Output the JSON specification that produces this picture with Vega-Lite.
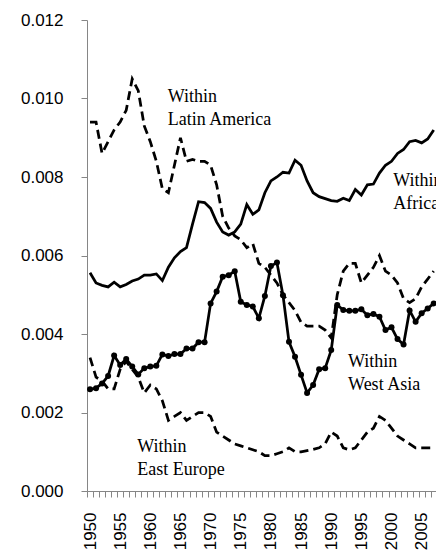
{
  "$schema": "https://vega.github.io/schema/vega-lite/v6.json",
  "width": 349,
  "height": 471,
  "autosize": {"type": "none"},
  "padding": {"left": 87, "top": 20, "right": 0, "bottom": 60},
  "background": "white",
  "config": {"view": {"stroke": null}, "font": "Liberation Sans"},
  "datasets": {
    "series": [
      {"year":1950,"region":"Latin America","value":0.0094},{"year":1951,"region":"Latin America","value":0.0094},{"year":1952,"region":"Latin America","value":0.0086},{"year":1953,"region":"Latin America","value":0.0089},{"year":1954,"region":"Latin America","value":0.0092},{"year":1955,"region":"Latin America","value":0.0094},{"year":1956,"region":"Latin America","value":0.0097},{"year":1957,"region":"Latin America","value":0.0105},{"year":1958,"region":"Latin America","value":0.0102},{"year":1959,"region":"Latin America","value":0.0093},{"year":1960,"region":"Latin America","value":0.0089},{"year":1961,"region":"Latin America","value":0.0084},{"year":1962,"region":"Latin America","value":0.0077},{"year":1963,"region":"Latin America","value":0.0076},{"year":1964,"region":"Latin America","value":0.0083},{"year":1965,"region":"Latin America","value":0.0090},{"year":1966,"region":"Latin America","value":0.0084},{"year":1967,"region":"Latin America","value":0.00845},{"year":1968,"region":"Latin America","value":0.0084},{"year":1969,"region":"Latin America","value":0.0084},{"year":1970,"region":"Latin America","value":0.0083},{"year":1971,"region":"Latin America","value":0.0078},{"year":1972,"region":"Latin America","value":0.0070},{"year":1973,"region":"Latin America","value":0.0067},{"year":1974,"region":"Latin America","value":0.0065},{"year":1975,"region":"Latin America","value":0.0064},{"year":1976,"region":"Latin America","value":0.0062},{"year":1977,"region":"Latin America","value":0.0063},{"year":1978,"region":"Latin America","value":0.0058},{"year":1979,"region":"Latin America","value":0.0057},{"year":1980,"region":"Latin America","value":0.0055},{"year":1981,"region":"Latin America","value":0.0053},{"year":1982,"region":"Latin America","value":0.0050},{"year":1983,"region":"Latin America","value":0.0048},{"year":1984,"region":"Latin America","value":0.0046},{"year":1985,"region":"Latin America","value":0.0043},{"year":1986,"region":"Latin America","value":0.0042},{"year":1987,"region":"Latin America","value":0.0042},{"year":1988,"region":"Latin America","value":0.0042},{"year":1989,"region":"Latin America","value":0.0041},{"year":1990,"region":"Latin America","value":0.0039},{"year":1991,"region":"Latin America","value":0.0050},{"year":1992,"region":"Latin America","value":0.0056},{"year":1993,"region":"Latin America","value":0.0058},{"year":1994,"region":"Latin America","value":0.0058},{"year":1995,"region":"Latin America","value":0.0053},{"year":1996,"region":"Latin America","value":0.0055},{"year":1997,"region":"Latin America","value":0.0057},{"year":1998,"region":"Latin America","value":0.0060},{"year":1999,"region":"Latin America","value":0.0056},{"year":2000,"region":"Latin America","value":0.0055},{"year":2001,"region":"Latin America","value":0.0053},{"year":2002,"region":"Latin America","value":0.0049},{"year":2003,"region":"Latin America","value":0.0048},{"year":2004,"region":"Latin America","value":0.0049},{"year":2005,"region":"Latin America","value":0.0052},{"year":2006,"region":"Latin America","value":0.0054},{"year":2007,"region":"Latin America","value":0.0056},
      {"year":1950,"region":"Africa","value":0.00556},{"year":1951,"region":"Africa","value":0.0053},{"year":1952,"region":"Africa","value":0.00524},{"year":1953,"region":"Africa","value":0.0052},{"year":1954,"region":"Africa","value":0.00532},{"year":1955,"region":"Africa","value":0.0052},{"year":1956,"region":"Africa","value":0.00526},{"year":1957,"region":"Africa","value":0.00535},{"year":1958,"region":"Africa","value":0.0054},{"year":1959,"region":"Africa","value":0.0055},{"year":1960,"region":"Africa","value":0.0055},{"year":1961,"region":"Africa","value":0.00553},{"year":1962,"region":"Africa","value":0.00536},{"year":1963,"region":"Africa","value":0.0057},{"year":1964,"region":"Africa","value":0.00594},{"year":1965,"region":"Africa","value":0.0061},{"year":1966,"region":"Africa","value":0.0062},{"year":1967,"region":"Africa","value":0.0068},{"year":1968,"region":"Africa","value":0.00737},{"year":1969,"region":"Africa","value":0.00735},{"year":1970,"region":"Africa","value":0.0072},{"year":1971,"region":"Africa","value":0.00685},{"year":1972,"region":"Africa","value":0.0066},{"year":1973,"region":"Africa","value":0.00652},{"year":1974,"region":"Africa","value":0.0066},{"year":1975,"region":"Africa","value":0.0068},{"year":1976,"region":"Africa","value":0.0073},{"year":1977,"region":"Africa","value":0.00705},{"year":1978,"region":"Africa","value":0.00716},{"year":1979,"region":"Africa","value":0.0076},{"year":1980,"region":"Africa","value":0.0079},{"year":1981,"region":"Africa","value":0.008},{"year":1982,"region":"Africa","value":0.00812},{"year":1983,"region":"Africa","value":0.0081},{"year":1984,"region":"Africa","value":0.00843},{"year":1985,"region":"Africa","value":0.0083},{"year":1986,"region":"Africa","value":0.0079},{"year":1987,"region":"Africa","value":0.0076},{"year":1988,"region":"Africa","value":0.0075},{"year":1989,"region":"Africa","value":0.00745},{"year":1990,"region":"Africa","value":0.0074},{"year":1991,"region":"Africa","value":0.00738},{"year":1992,"region":"Africa","value":0.00746},{"year":1993,"region":"Africa","value":0.0074},{"year":1994,"region":"Africa","value":0.00768},{"year":1995,"region":"Africa","value":0.00754},{"year":1996,"region":"Africa","value":0.0078},{"year":1997,"region":"Africa","value":0.00782},{"year":1998,"region":"Africa","value":0.0081},{"year":1999,"region":"Africa","value":0.0083},{"year":2000,"region":"Africa","value":0.0084},{"year":2001,"region":"Africa","value":0.0086},{"year":2002,"region":"Africa","value":0.0087},{"year":2003,"region":"Africa","value":0.0089},{"year":2004,"region":"Africa","value":0.00893},{"year":2005,"region":"Africa","value":0.00887},{"year":2006,"region":"Africa","value":0.00897},{"year":2007,"region":"Africa","value":0.0092},
      {"year":1950,"region":"West Asia","value":0.00259},{"year":1951,"region":"West Asia","value":0.00262},{"year":1952,"region":"West Asia","value":0.00274},{"year":1953,"region":"West Asia","value":0.00293},{"year":1954,"region":"West Asia","value":0.00345},{"year":1955,"region":"West Asia","value":0.00321},{"year":1956,"region":"West Asia","value":0.00336},{"year":1957,"region":"West Asia","value":0.00317},{"year":1958,"region":"West Asia","value":0.00297},{"year":1959,"region":"West Asia","value":0.00313},{"year":1960,"region":"West Asia","value":0.00317},{"year":1961,"region":"West Asia","value":0.00319},{"year":1962,"region":"West Asia","value":0.00348},{"year":1963,"region":"West Asia","value":0.00344},{"year":1964,"region":"West Asia","value":0.00349},{"year":1965,"region":"West Asia","value":0.00349},{"year":1966,"region":"West Asia","value":0.00363},{"year":1967,"region":"West Asia","value":0.00363},{"year":1968,"region":"West Asia","value":0.00379},{"year":1969,"region":"West Asia","value":0.00379},{"year":1970,"region":"West Asia","value":0.00478},{"year":1971,"region":"West Asia","value":0.00508},{"year":1972,"region":"West Asia","value":0.00546},{"year":1973,"region":"West Asia","value":0.0055},{"year":1974,"region":"West Asia","value":0.0056},{"year":1975,"region":"West Asia","value":0.00482},{"year":1976,"region":"West Asia","value":0.00474},{"year":1977,"region":"West Asia","value":0.0047},{"year":1978,"region":"West Asia","value":0.0044},{"year":1979,"region":"West Asia","value":0.00497},{"year":1980,"region":"West Asia","value":0.00573},{"year":1981,"region":"West Asia","value":0.00582},{"year":1982,"region":"West Asia","value":0.00499},{"year":1983,"region":"West Asia","value":0.0038},{"year":1984,"region":"West Asia","value":0.00342},{"year":1985,"region":"West Asia","value":0.00296},{"year":1986,"region":"West Asia","value":0.0025},{"year":1987,"region":"West Asia","value":0.0027},{"year":1988,"region":"West Asia","value":0.0031},{"year":1989,"region":"West Asia","value":0.00313},{"year":1990,"region":"West Asia","value":0.00359},{"year":1991,"region":"West Asia","value":0.00474},{"year":1992,"region":"West Asia","value":0.00461},{"year":1993,"region":"West Asia","value":0.00459},{"year":1994,"region":"West Asia","value":0.00459},{"year":1995,"region":"West Asia","value":0.00463},{"year":1996,"region":"West Asia","value":0.00448},{"year":1997,"region":"West Asia","value":0.00451},{"year":1998,"region":"West Asia","value":0.00444},{"year":1999,"region":"West Asia","value":0.0041},{"year":2000,"region":"West Asia","value":0.00417},{"year":2001,"region":"West Asia","value":0.00387},{"year":2002,"region":"West Asia","value":0.00373},{"year":2003,"region":"West Asia","value":0.0046},{"year":2004,"region":"West Asia","value":0.00431},{"year":2005,"region":"West Asia","value":0.00453},{"year":2006,"region":"West Asia","value":0.00465},{"year":2007,"region":"West Asia","value":0.00478},
      {"year":1950,"region":"East Europe","value":0.0034},{"year":1951,"region":"East Europe","value":0.0029},{"year":1952,"region":"East Europe","value":0.0028},{"year":1953,"region":"East Europe","value":0.0026},{"year":1954,"region":"East Europe","value":0.0026},{"year":1955,"region":"East Europe","value":0.0031},{"year":1956,"region":"East Europe","value":0.0033},{"year":1957,"region":"East Europe","value":0.0031},{"year":1958,"region":"East Europe","value":0.0029},{"year":1959,"region":"East Europe","value":0.0025},{"year":1960,"region":"East Europe","value":0.0027},{"year":1961,"region":"East Europe","value":0.0026},{"year":1962,"region":"East Europe","value":0.0023},{"year":1963,"region":"East Europe","value":0.0018},{"year":1964,"region":"East Europe","value":0.0019},{"year":1965,"region":"East Europe","value":0.0020},{"year":1966,"region":"East Europe","value":0.0018},{"year":1967,"region":"East Europe","value":0.0019},{"year":1968,"region":"East Europe","value":0.0020},{"year":1969,"region":"East Europe","value":0.0020},{"year":1970,"region":"East Europe","value":0.0019},{"year":1971,"region":"East Europe","value":0.0015},{"year":1972,"region":"East Europe","value":0.0014},{"year":1973,"region":"East Europe","value":0.0013},{"year":1974,"region":"East Europe","value":0.0012},{"year":1975,"region":"East Europe","value":0.00115},{"year":1976,"region":"East Europe","value":0.0011},{"year":1977,"region":"East Europe","value":0.00105},{"year":1978,"region":"East Europe","value":0.001},{"year":1979,"region":"East Europe","value":0.0009},{"year":1980,"region":"East Europe","value":0.0009},{"year":1981,"region":"East Europe","value":0.00095},{"year":1982,"region":"East Europe","value":0.001},{"year":1983,"region":"East Europe","value":0.0011},{"year":1984,"region":"East Europe","value":0.001},{"year":1985,"region":"East Europe","value":0.001},{"year":1986,"region":"East Europe","value":0.00103},{"year":1987,"region":"East Europe","value":0.00106},{"year":1988,"region":"East Europe","value":0.0011},{"year":1989,"region":"East Europe","value":0.0012},{"year":1990,"region":"East Europe","value":0.0015},{"year":1991,"region":"East Europe","value":0.0014},{"year":1992,"region":"East Europe","value":0.0011},{"year":1993,"region":"East Europe","value":0.00105},{"year":1994,"region":"East Europe","value":0.0011},{"year":1995,"region":"East Europe","value":0.0013},{"year":1996,"region":"East Europe","value":0.0015},{"year":1997,"region":"East Europe","value":0.0016},{"year":1998,"region":"East Europe","value":0.0019},{"year":1999,"region":"East Europe","value":0.0018},{"year":2000,"region":"East Europe","value":0.0016},{"year":2001,"region":"East Europe","value":0.0014},{"year":2002,"region":"East Europe","value":0.0013},{"year":2003,"region":"East Europe","value":0.0012},{"year":2004,"region":"East Europe","value":0.0011},{"year":2005,"region":"East Europe","value":0.0011},{"year":2006,"region":"East Europe","value":0.0011},{"year":2007,"region":"East Europe","value":0.0011}
    ],
    "labels": [
      {"year": 1962.9, "value": 0.00991, "label": "Within\nLatin America"},
      {"year": 2000.3, "value": 0.00777, "label": "Within\nAfrica"},
      {"year": 1992.8, "value": 0.00317, "label": "Within\nWest Asia"},
      {"year": 1957.85, "value": 0.001, "label": "Within\nEast Europe"}
    ]
  },
  "encoding": {
    "x": {
      "field": "year", "type": "quantitative",
      "scale": {"domain": [1949.5, 2007.38], "nice": false, "zero": false},
      "axis": {
        "title": null, "grid": false,
        "values": [1950,1951,1952,1953,1954,1955,1956,1957,1958,1959,1960,1961,1962,1963,1964,1965,1966,1967,1968,1969,1970,1971,1972,1973,1974,1975,1976,1977,1978,1979,1980,1981,1982,1983,1984,1985,1986,1987,1988,1989,1990,1991,1992,1993,1994,1995,1996,1997,1998,1999,2000,2001,2002,2003,2004,2005,2006,2007],
        "format": "d",
        "labelExpr": "datum.value % 5 == 0 ? datum.label : ''",
        "tickOffset": -3, "labelOffset": 3,
        "labelAngle": 270, "labelAlign": "right", "labelBaseline": "middle",
        "labelPadding": 15, "tickSize": 6, "tickColor": "#868686", "domainColor": "#868686",
        "labelFontSize": 17, "labelColor": "#000000", "labelOverlap": false, "labelFlush": false
      }
    },
    "y": {
      "field": "value", "type": "quantitative",
      "scale": {"domain": [0, 0.012], "nice": false},
      "axis": {
        "title": null, "grid": false,
        "values": [0, 0.002, 0.004, 0.006, 0.008, 0.010, 0.012],
        "format": ".3f", "tickSize": 6, "labelPadding": 18,
        "labelFontSize": 17, "labelColor": "#000000",
        "tickColor": "#868686", "domainColor": "#868686"
      }
    }
  },
  "layer": [
    {
      "data": {"name": "series"},
      "transform": [{"filter": "datum.region == 'Latin America' || datum.region == 'East Europe'"}],
      "mark": {"type": "line", "color": "black", "strokeWidth": 2.75, "strokeDash": [9, 5], "clip": true},
      "encoding": {"detail": {"field": "region"}}
    },
    {
      "data": {"name": "series"},
      "transform": [{"filter": "datum.region == 'Africa'"}],
      "mark": {"type": "line", "color": "black", "strokeWidth": 2.75, "clip": true},
      "encoding": {}
    },
    {
      "data": {"name": "series"},
      "transform": [{"filter": "datum.region == 'West Asia'"}],
      "mark": {"type": "line", "color": "black", "strokeWidth": 2.75, "clip": true,
               "point": {"filled": true, "color": "black", "size": 36}},
      "encoding": {}
    },
    {
      "data": {"name": "labels"},
      "mark": {"type": "text", "align": "left", "baseline": "alphabetic", "font": "Liberation Serif",
               "fontSize": 18, "lineBreak": "\n", "lineHeight": 23, "color": "black", "clip": true},
      "encoding": {"text": {"field": "label"}}
    }
  ]
}
